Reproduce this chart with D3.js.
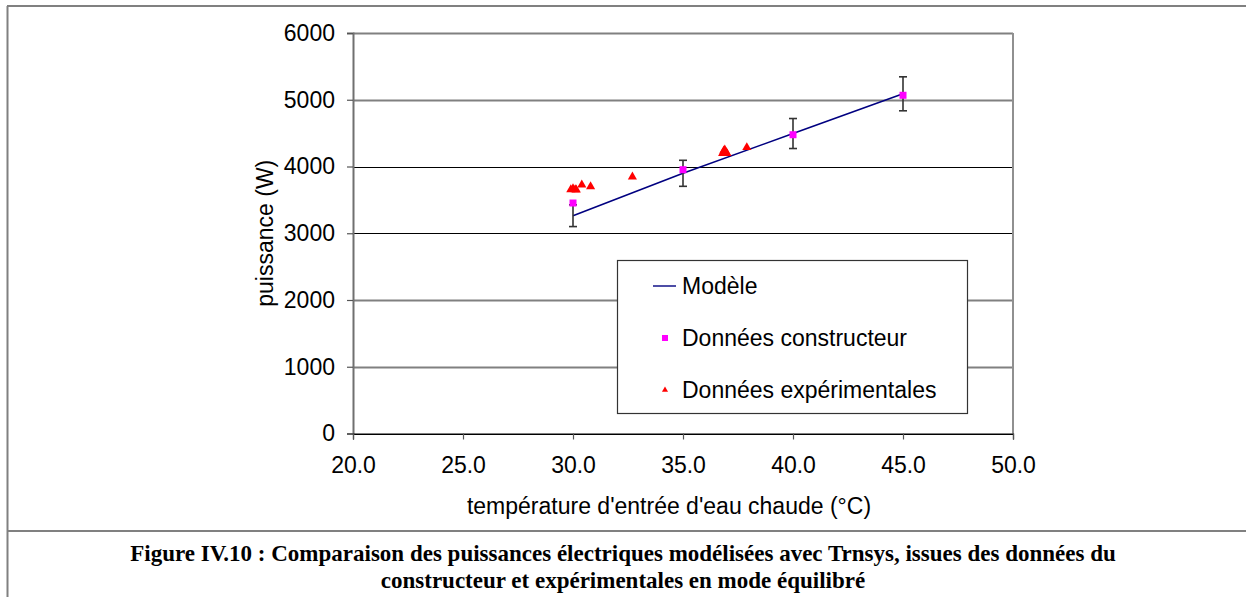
<!DOCTYPE html>
<html>
<head>
<meta charset="utf-8">
<script src="https://cdn.jsdelivr.net/npm/d3@7"></script>
<style>
  html, body { margin: 0; padding: 0; background: #fff; }
  svg { display: block; }
</style>
</head>
<body>
<svg id="chart" width="1246" height="597"></svg>
<script>
// Temperatures (°C) of the manufacturer / model points
const modelTemps = [30, 35, 40, 45];
// Model (Trnsys) electrical power, W
const modelPower = [3263, 3898, 4494, 5089];
// Manufacturer data, W
const makerPower = [3453, 3952, 4476, 5067];
// Relative uncertainty shown around the model
const errorFraction = 0.05;
// Measured points: temperature and power
const expTemps = [29.9, 30.0, 30.1, 30.15, 30.4, 30.8, 32.7, 36.8, 36.85, 36.9, 36.95, 37.0, 37.9];
const expPower = [3655, 3670, 3655, 3650, 3725, 3700, 3845, 4195, 4235, 4250, 4215, 4195, 4285];
// Axis ticks
const xTicks = [20, 25, 30, 35, 40, 45, 50];
const yTicks = [0, 1000, 2000, 3000, 4000, 5000, 6000];
// Texts
const legendLabels = ["Modèle", "Données constructeur", "Données expérimentales"];
const xTitle = "température d'entrée d'eau chaude (°C)";
const yTitle = "puissance (W)";
const captionLines = [
  "Figure IV.10 : Comparaison des puissances électriques modélisées avec Trnsys, issues des données du",
  "constructeur et expérimentales en mode équilibré"
];

const svg = d3.select("#chart");
const W = 1246, H = 597;
const plot = { left: 353, right: 1013, top: 33, bottom: 433.5 };

const x = d3.scaleLinear().domain([20, 50]).range([plot.left, plot.right]);
const y = d3.scaleLinear().domain([0, 6000]).range([plot.bottom, plot.top]);

const sans = "'Liberation Sans', Arial, sans-serif";
const serif = "'Liberation Serif', 'Times New Roman', serif";
const fs = 23;

// Figure frame: top rule, left rule, caption separator
const frame = svg.append("g").attr("stroke", "#808080").attr("stroke-width", 2).attr("fill", "none");
frame.append("line").attr("x1", 7).attr("x2", W).attr("y1", 6).attr("y2", 6);
frame.append("line").attr("x1", 7.5).attr("x2", 7.5).attr("y1", 6).attr("y2", H);
frame.append("line").attr("x1", 7).attr("x2", W).attr("y1", 531).attr("y2", 531);

// Horizontal gridlines
const gridDark = v => v === 0 || v === 3000 || v === 4000;
svg.append("g").selectAll("line").data(yTicks).join("line")
  .attr("x1", plot.left).attr("x2", plot.right)
  .attr("y1", d => Math.round(y(d)) + 0.5).attr("y2", d => Math.round(y(d)) + 0.5)
  .attr("stroke", d => gridDark(d) ? "#000" : "#808080")
  .attr("stroke-width", d => gridDark(d) ? 1.2 : 2);

// Right border of the plot area
svg.append("line")
  .attr("x1", plot.right).attr("x2", plot.right)
  .attr("y1", plot.top).attr("y2", plot.bottom)
  .attr("stroke", "#909090").attr("stroke-width", 2);

// Y axis
const yAxis = svg.append("g")
  .attr("transform", `translate(${plot.left},0)`)
  .call(d3.axisLeft(y).tickValues(yTicks).tickSize(6).tickPadding(12).tickFormat(d3.format("d")));
yAxis.select(".domain").attr("stroke", "#707070").attr("stroke-width", 2);
yAxis.selectAll(".tick line").attr("stroke", "#555").attr("stroke-width", 1.2);
yAxis.selectAll(".tick text").attr("font-family", sans).attr("font-size", fs).attr("fill", "#000");

// X axis
const xAxis = svg.append("g")
  .attr("transform", `translate(0,${plot.bottom})`)
  .call(d3.axisBottom(x).tickValues(xTicks).tickSize(6).tickPadding(17).tickFormat(d3.format(".1f")));
xAxis.select(".domain").attr("stroke", "#000").attr("stroke-width", 1.2);
xAxis.selectAll(".tick line").attr("stroke", "#555").attr("stroke-width", 1.2);
xAxis.selectAll(".tick text").attr("font-family", sans).attr("font-size", fs).attr("fill", "#000");

// Axis titles
svg.append("text")
  .attr("x", (plot.left + plot.right) / 2 - 14).attr("y", 514)
  .attr("text-anchor", "middle")
  .attr("font-family", sans).attr("font-size", fs)
  .text(xTitle);
svg.append("text")
  .attr("transform", `translate(273,${(plot.top + plot.bottom) / 2}) rotate(-90)`)
  .attr("text-anchor", "middle")
  .attr("font-family", sans).attr("font-size", fs)
  .text(yTitle);

// Model curve
const modelData = modelTemps.map((t, i) => ({ t, p: modelPower[i] }));
svg.append("path")
  .datum(modelData)
  .attr("d", d3.line().x(d => x(d.t)).y(d => y(d.p)))
  .attr("fill", "none").attr("stroke", "#000080").attr("stroke-width", 1.6);

// Error bars around the model
const cap = 4;
const eb = svg.append("g").attr("stroke", "#333").attr("stroke-width", 1.6);
eb.selectAll("line.v").data(modelData).join("line").attr("class", "v")
  .attr("x1", d => x(d.t)).attr("x2", d => x(d.t))
  .attr("y1", d => y(d.p * (1 + errorFraction))).attr("y2", d => y(d.p * (1 - errorFraction)));
eb.selectAll("line.top").data(modelData).join("line").attr("class", "top")
  .attr("x1", d => x(d.t) - cap).attr("x2", d => x(d.t) + cap)
  .attr("y1", d => y(d.p * (1 + errorFraction))).attr("y2", d => y(d.p * (1 + errorFraction)));
eb.selectAll("line.bot").data(modelData).join("line").attr("class", "bot")
  .attr("x1", d => x(d.t) - cap).attr("x2", d => x(d.t) + cap)
  .attr("y1", d => y(d.p * (1 - errorFraction))).attr("y2", d => y(d.p * (1 - errorFraction)));

// Measured points (red triangles)
const tri = d3.symbol().type(d3.symbolTriangle).size(36);
svg.append("g").selectAll("path").data(expTemps.map((t, i) => ({ t, p: expPower[i] }))).join("path")
  .attr("d", tri)
  .attr("transform", d => `translate(${x(d.t)},${y(d.p)})`)
  .attr("fill", "#ff0000");

// Manufacturer points (magenta squares)
const sq = 7;
svg.append("g").selectAll("rect").data(modelTemps.map((t, i) => ({ t, p: makerPower[i] }))).join("rect")
  .attr("x", d => x(d.t) - sq / 2).attr("y", d => y(d.p) - sq / 2)
  .attr("width", sq).attr("height", sq)
  .attr("fill", "#ff00ff");

// Legend
const lg = svg.append("g");
lg.append("rect").attr("x", 617.5).attr("y", 260.5).attr("width", 350).attr("height", 153)
  .attr("fill", "#fff").attr("stroke", "#333").attr("stroke-width", 1.2);
const rowY = [286, 338, 390];
lg.append("line").attr("x1", 653).attr("x2", 676).attr("y1", rowY[0]).attr("y2", rowY[0])
  .attr("stroke", "#000080").attr("stroke-width", 1.4);
lg.append("rect").attr("x", 662).attr("y", rowY[1] - 3).attr("width", 6).attr("height", 6).attr("fill", "#ff00ff");
lg.append("path").attr("d", d3.symbol().type(d3.symbolTriangle).size(16))
  .attr("transform", `translate(665,${rowY[2]})`).attr("fill", "#ff0000");
lg.selectAll("text").data(legendLabels).join("text")
  .attr("x", 682).attr("y", (d, i) => rowY[i])
  .attr("dy", "0.35em")
  .attr("font-family", sans).attr("font-size", fs)
  .text(d => d);

// Caption, centred under the chart
svg.append("g").selectAll("text").data(captionLines).join("text")
  .attr("x", 623).attr("y", (d, i) => 561 + i * 27)
  .attr("text-anchor", "middle")
  .attr("font-family", serif).attr("font-weight", "bold").attr("font-size", 23)
  .text(d => d);
</script>
</body>
</html>
